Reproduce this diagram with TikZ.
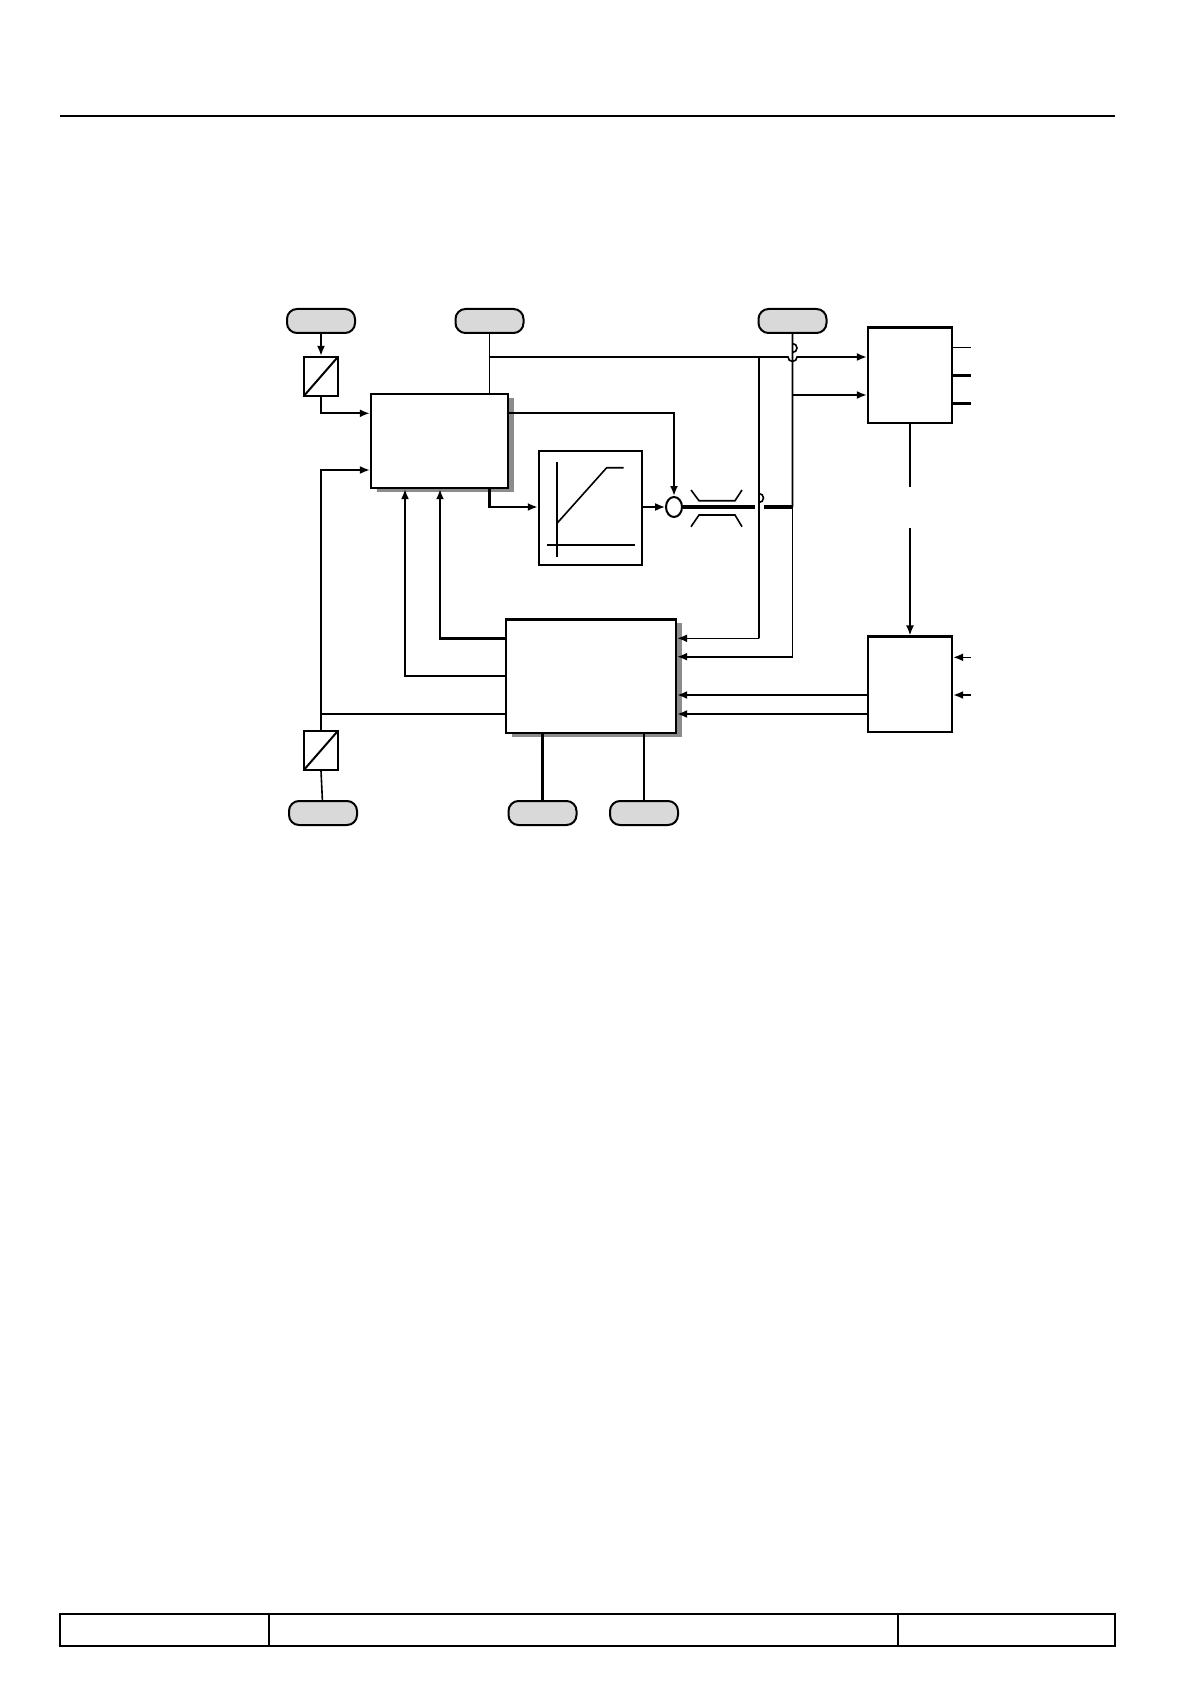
\documentclass[tikz,border=0pt]{standalone}
\usetikzlibrary{positioning,arrows.meta,shapes.geometric}
\tikzset{
  pill/.style={draw, line width=1pt, fill=black!15, rounded corners=5pt, minimum width=34pt, minimum height=12pt, inner sep=0pt},
  conv/.style={draw, line width=1pt, minimum width=17pt, minimum height=19.5pt, inner sep=0pt, path picture={\draw (path picture bounding box.south west) -- (path picture bounding box.north east);}},
  sig/.style={line width=0.8pt},
  ar/.style={sig, -{Latex[length=5pt,width=4pt]}},
}
\begin{document}
\begin{tikzpicture}[x=0.5pt, y=-0.5pt]
\useasboundingbox (0,0) rectangle (1191,1684);
% page frame
\draw[line width=0.8pt] (60,116) -- (1115,116);
\draw[line width=0.6pt] (60,1614) rectangle (1115,1646) (269,1614) -- (269,1646) (898,1614) -- (898,1646);
% shadows
\fill[black!45] (377,398) rectangle (514,492);
\fill[black!45] (512,623) rectangle (682,737);
% boxes
\node[draw, line width=1.2pt, fill=white, minimum width=68.5pt, minimum height=47pt, inner sep=0pt] (ctrl) at (439.5,441) {};
\node[draw, line width=1.2pt, fill=white, minimum width=85pt, minimum height=56.7pt, inner sep=0pt] (logic) at (591,676) {};
\node[draw, line width=1.2pt, minimum width=51.5pt, minimum height=57pt, inner sep=0pt] (ramp) at (590.5,508) {};
\node[draw, line width=1.2pt, minimum width=42pt, minimum height=47.7pt, inner sep=0pt] (outbox) at (910,375.3) {};
\node[draw, line width=1.2pt, minimum width=42pt, minimum height=47.7pt, inner sep=0pt] (inbox) at (910,684.3) {};
\node[conv] (conva) at (321,376.3) {};
\node[conv] (convb) at (321,750.3) {};
\node[draw, line width=1pt, ellipse, minimum width=8pt, minimum height=10pt, inner sep=0pt] (sum) at (674,507) {};
% ramp graph
\draw[line width=0.8pt] (557,461.7) -- (557,556.7) (547,545) -- (635,545);
\draw[line width=0.8pt] (557,523.3) -- (606.7,467.7) -- (623.5,467.7);
% pills
\node[pill] (pa) at (321,321) {};
\node[pill] (pb) at (489.5,321) {};
\node[pill] (pc) at (792.5,321) {};
\node[pill] (pd) at (323,813) {};
\node[pill] (pe) at (542.5,813) {};
\node[pill] (pf) at (644,813) {};
% top inputs
\draw[ar] (pa) -- (conva);
\draw[ar, line width=1.2pt] (conva.south) |- (ctrl.west |- 0,413.3);
\draw[sig] (pb) -- (489.5,357) coordinate (jb);
\draw[sig] (489.5,357) -- (ctrl.north -| 489.5,0);
\draw[ar] (jb) -- (788,357) arc (180:0:4.5) -- (outbox.west |- 0,357);
\draw[sig] (pc) -- (792.5,352.5) arc (90:-90:4.5) -- (792.5,507);
\draw[ar] (792.5,395) -- (outbox.west |- 0,395);
\draw[ar] (792.5,507) |- (logic.east |- 0,656.7);
\draw[sig] (759,357) -- (759,502.5) arc (90:-90:4.5) -- (759,638.3);
\draw[ar] (759,638.3) -- (logic.east |- 0,638.3);
% ctrl outputs
\draw[ar, line width=1.2pt] (ctrl.east |- 0,413.3) -| (sum.north);
\draw[ar, line width=1.2pt] (ctrl.south -| 489.5,0) |- (ramp.west |- 0,507);
\draw[ar] (ramp.east |- 0,507) -- (sum.west);
\draw[line width=1.6pt] (sum.east) -- (754.5,507);
\draw[line width=1.6pt] (763.5,507) -- (792.5,507);
% crossover marks
\draw[line width=0.8pt] (691,490) -- (699,500.7) -- (735,500.7) -- (742,490);
\draw[line width=0.8pt] (691,526.7) -- (699,515) -- (735,515) -- (742,526.7);
% outbox outputs
\foreach \yy/\lw in {347.7/0.8pt, 375.3/1.4pt, 403.3/1.4pt}
  \draw[line width=\lw] (outbox.east |- 0,\yy) -- (971,\yy);
\draw[sig] (outbox.south) -- (910,486.7);
\draw[ar] (910,528.3) -- (inbox.north);
% inbox
\foreach \yy in {657.3,695}
  \draw[ar] (971,\yy) -- (inbox.east |- 0,\yy);
\draw[ar] (inbox.west |- 0,695) -- (logic.east |- 0,695);
\draw[ar] (inbox.west |- 0,714) -- (logic.east |- 0,714);
% feedback to ctrl
\draw[ar, line width=1.2pt] (logic.west |- 0,638.3) -| (ctrl.south -| 440,0);
\draw[ar] (logic.west |- 0,676) -| (ctrl.south -| 405,0);
\draw[sig] (logic.west |- 0,714) -- (321,714);
\draw[ar] (321,714) |- (ctrl.west |- 0,470);
\draw[sig] (321,714) -- (convb.north);
\draw[sig] (convb.south) -- (pd);
% logic bottom
\draw[line width=1.2pt] (logic.south -| pe) -- (pe);
\draw[line width=1.2pt] (logic.south -| pf) -- (pf);
\end{tikzpicture}
\end{document}
